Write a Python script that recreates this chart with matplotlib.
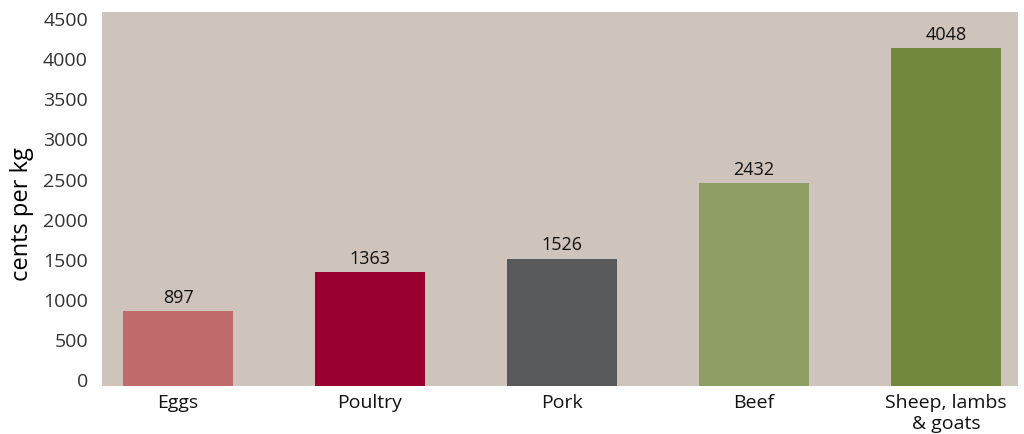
import matplotlib
matplotlib.use("Agg")
import matplotlib.pyplot as plt

categories = ["Eggs", "Poultry", "Pork", "Beef", "Sheep, lambs\n& goats"]
values = [897, 1363, 1526, 2432, 4048]
colors = ["#BF6B6C", "#990030", "#58595B", "#8F9E64", "#72893D"]
yticks = [0, 500, 1000, 1500, 2000, 2500, 3000, 3500, 4000, 4500]

plt.rcParams["font.family"] = ["Open Sans", "DejaVu Sans"]

fig = plt.figure(figsize=(10.24, 4.34), dpi=100)
ax = fig.add_axes([0.0996, 0.1106, 0.8944, 0.8614])
ax.set_facecolor("#CEC4BB")

x = range(len(categories))
bars = ax.bar(x, values, width=0.573, color=colors, zorder=2)
for b, v in zip(bars, values):
    ax.annotate(f"{v}", (b.get_x() + b.get_width() / 2, v), textcoords="offset points",
                xytext=(0, 3), ha="center", va="bottom", fontsize=13, color="#111111")

ax.set_xlim(-0.396, 4.375)
ax.set_ylim(0, 4480)
ax.set_yticks([])
# the original's axis labels are spread evenly from just above the bottom
# to just below the top of the panel, not exactly on the bar scale
lo, hi = 0.0107, 0.9757
for i, t in enumerate(yticks):
    frac = lo + (hi - lo) * i / (len(yticks) - 1)
    ax.text(-14 / 916, frac, str(t), transform=ax.transAxes, ha="right", va="center",
            fontsize=14, color="#333333")
ax.set_xticks(list(x))
ax.set_xticklabels(categories, fontsize=14, color="#111111", va="top", linespacing=1.2)
ax.tick_params(axis="x", length=0, pad=6)
for s in ax.spines.values():
    s.set_visible(False)
ax.set_ylabel("cents per kg", fontsize=17, va="center")
ax.yaxis.set_label_coords(-0.0875, 0.46)

fig.savefig("out.png", dpi=100)
